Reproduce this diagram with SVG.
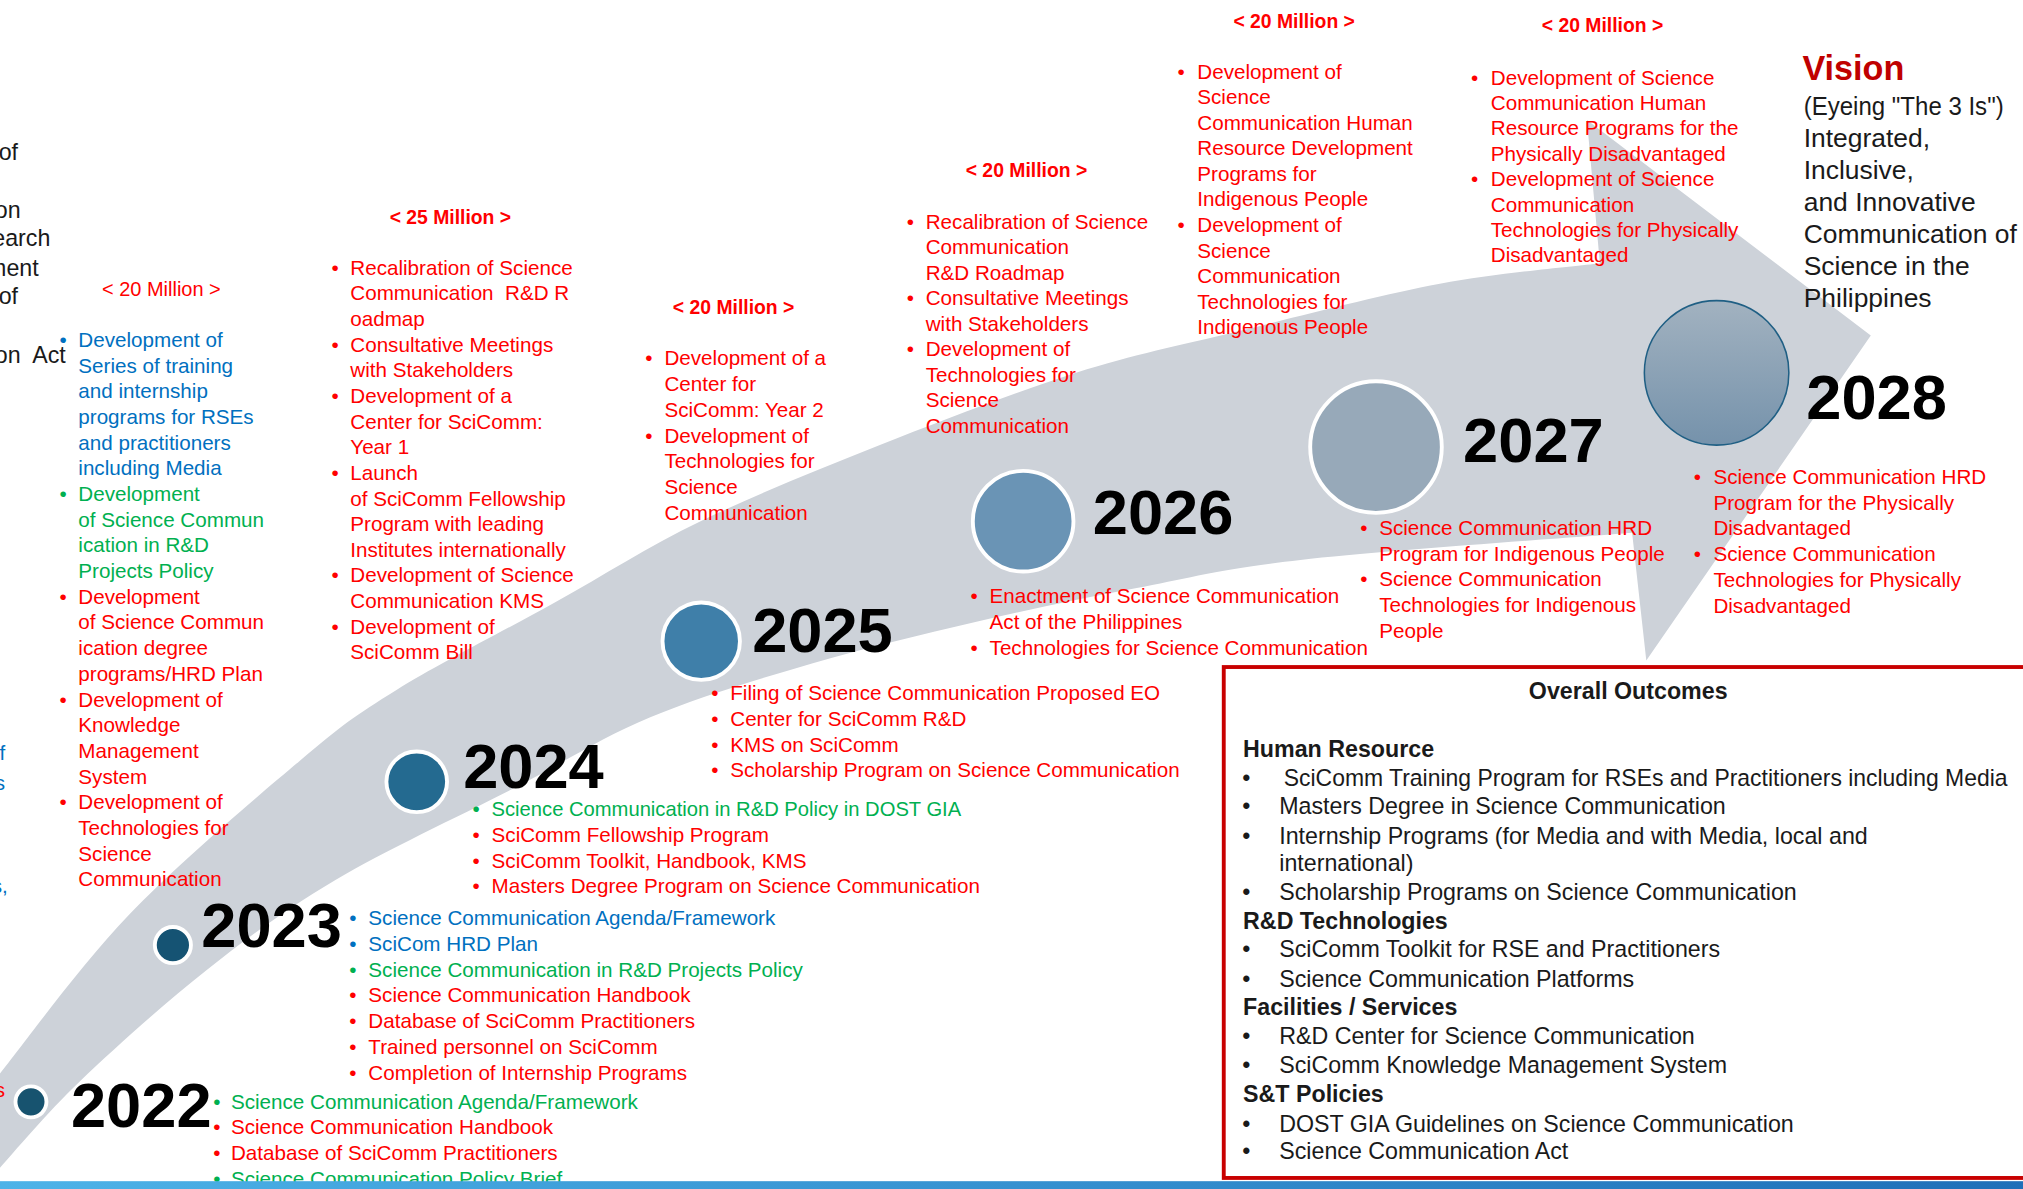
<svg xmlns="http://www.w3.org/2000/svg" width="2023" height="1189" viewBox="0 0 2023 1189">
<defs>
<style>
.f{font-family:"Liberation Sans",Arial,sans-serif}
.s{font-size:16px}
.r{fill:#FF0000}
.bl{fill:#0070C0}
.g{fill:#00B050}
.k{fill:#1A1A1A}
.lf{font-size:18px;fill:#1A1A1A}
.m{font-size:15px;font-weight:bold;fill:#FF0000}
.yr{font-size:49px;font-weight:bold;fill:#000000}
.o{font-size:18px;fill:#1A1A1A}
.ob{font-size:18px;font-weight:bold;fill:#1A1A1A}
.ring{stroke:#FFFFFF;stroke-width:3}
.vt{font-size:20.5px;fill:#1A1A1A}
</style>
<linearGradient id="g28" x1="0" y1="0" x2="0" y2="1"><stop offset="0" stop-color="#A2B2C0"/><stop offset="1" stop-color="#7592AB"/></linearGradient>
<linearGradient id="bar" x1="0" y1="0" x2="1" y2="0"><stop offset="0" stop-color="#4DB3E8"/><stop offset="1" stop-color="#1F6FB8"/></linearGradient>
</defs>
<rect width="2023" height="1189" fill="#FFFFFF"/>
<g class="f" transform="scale(1.2902)">
<g id="connectors">
<path id="timeline-arrow" fill="#CDD2D9" d="M -5,838 L 0,832 C 16.7,811.5 61.3,749.3 100,709 C 138.7,668.7 197.5,619 232,590 C 266.5,561 274,555.5 307,535 C 340,514.5 390.7,488.8 430,467 C 469.3,445.2 501,424.3 543,404 C 585,383.7 633.5,364.2 682,345 C 730.5,325.8 787.8,303.7 834,289 C 880.2,274.3 912,268.5 959,257 C 1006,245.5 1069.2,228.8 1116,220 C 1162.8,211.2 1219.3,206.7 1240,204 L 1230,93 L 1450,260 L 1276,512 L 1265,413 C 1222.2,416.5 1072.2,426.8 1008,434 C 943.8,441.2 922,448 880,456 C 838,464 797.7,472.3 756,482 C 714.3,491.7 672,501.7 630,514 C 588,526.3 542.3,540 504,556 C 465.7,572 440.7,589 400,610 C 359.3,631 300,658.3 260,682 C 220,705.7 193,726 160,752 C 127,778 88.7,812.5 62,838 C 35.3,863.5 10.3,893.8 0,905 L -5,910 Z"/>
</g>

<g id="left-fragments">
<text class="lf" text-anchor="end" x="14" y="124">of</text>
<text class="lf" text-anchor="end" x="16" y="169">on</text>
<text class="lf" text-anchor="end" x="39" y="191">earch</text>
<text class="lf" text-anchor="end" x="30" y="214">ment</text>
<text class="lf" text-anchor="end" x="14" y="236">of</text>
<text class="lf" text-anchor="end" x="51" y="281" xml:space="preserve">on  Act</text>
<text class="s bl" text-anchor="end" x="4" y="589">f</text>
<text class="s bl" text-anchor="end" x="4" y="612">s</text>
<text class="s bl" text-anchor="end" x="6" y="692">s,</text>
<text class="s r" text-anchor="end" x="4" y="850">s</text>
</g>

<g id="budget-2023">
<text class="r" style="font-size:15.5px" x="79" y="229.5">&lt; 20 Million &gt;</text>
<text class="s" y="269">
<tspan class="bl" x="60.7">Development of</tspan>
<tspan class="bl" x="60.7" dy="19.9">Series of training</tspan>
<tspan class="bl" x="60.7" dy="19.9">and internship</tspan>
<tspan class="bl" x="60.7" dy="19.9">programs for RSEs</tspan>
<tspan class="bl" x="60.7" dy="19.9">and practitioners</tspan>
<tspan class="bl" x="60.7" dy="19.9">including Media</tspan>
<tspan class="g" x="60.7" dy="19.9">Development</tspan>
<tspan class="g" x="60.7" dy="19.9">of Science Commun</tspan>
<tspan class="g" x="60.7" dy="19.9">ication in R&amp;D</tspan>
<tspan class="g" x="60.7" dy="19.9">Projects Policy</tspan>
<tspan class="r" x="60.7" dy="19.9">Development</tspan>
<tspan class="r" x="60.7" dy="19.9">of Science Commun</tspan>
<tspan class="r" x="60.7" dy="19.9">ication degree</tspan>
<tspan class="r" x="60.7" dy="19.9">programs/HRD Plan</tspan>
<tspan class="r" x="60.7" dy="19.9">Development of</tspan>
<tspan class="r" x="60.7" dy="19.9">Knowledge</tspan>
<tspan class="r" x="60.7" dy="19.9">Management</tspan>
<tspan class="r" x="60.7" dy="19.9">System</tspan>
<tspan class="r" x="60.7" dy="19.9">Development of</tspan>
<tspan class="r" x="60.7" dy="19.9">Technologies for</tspan>
<tspan class="r" x="60.7" dy="19.9">Science</tspan>
<tspan class="r" x="60.7" dy="19.9">Communication</tspan>
</text>
<text class="s bl" x="46.2" y="269">•</text>
<text class="s g" x="46.2" y="388.4">•</text>
<text class="s r" x="46.2" y="468">•</text>
<text class="s r" x="46.2" y="547.6">•</text>
<text class="s r" x="46.2" y="627.2">•</text>
</g>

<g id="budget-2024">
<text class="m" x="302" y="173.5">&lt; 25 Million &gt;</text>
<text class="s r" y="213">
<tspan x="271.5">Recalibration of Science</tspan>
<tspan x="271.5" dy="19.87">Communication&#160; R&amp;D R</tspan>
<tspan x="271.5" dy="19.87">oadmap</tspan>
<tspan x="271.5" dy="19.87">Consultative Meetings</tspan>
<tspan x="271.5" dy="19.87">with Stakeholders</tspan>
<tspan x="271.5" dy="19.87">Development of a</tspan>
<tspan x="271.5" dy="19.87">Center for SciComm:</tspan>
<tspan x="271.5" dy="19.87">Year 1</tspan>
<tspan x="271.5" dy="19.87">Launch</tspan>
<tspan x="271.5" dy="19.87">of SciComm Fellowship</tspan>
<tspan x="271.5" dy="19.87">Program with leading</tspan>
<tspan x="271.5" dy="19.87">Institutes internationally</tspan>
<tspan x="271.5" dy="19.87">Development of Science</tspan>
<tspan x="271.5" dy="19.87">Communication KMS</tspan>
<tspan x="271.5" dy="19.87">Development of</tspan>
<tspan x="271.5" dy="19.87">SciComm Bill</tspan>
</text>
<text class="s r">
<tspan x="257" y="213">•</tspan>
<tspan x="257" y="272.6">•</tspan>
<tspan x="257" y="312.35">•</tspan>
<tspan x="257" y="371.96">•</tspan>
<tspan x="257" y="451.44">•</tspan>
<tspan x="257" y="491.18">•</tspan>
</text>
</g>

<g id="budget-2025">
<text class="m" x="521.5" y="243.5">&lt; 20 Million &gt;</text>
<text class="s r" y="283">
<tspan x="515">Development of a</tspan>
<tspan x="515" dy="20">Center for</tspan>
<tspan x="515" dy="20">SciComm: Year 2</tspan>
<tspan x="515" dy="20">Development of</tspan>
<tspan x="515" dy="20">Technologies for</tspan>
<tspan x="515" dy="20">Science</tspan>
<tspan x="515" dy="20">Communication</tspan>
</text>
<text class="s r"><tspan x="500.2" y="283">•</tspan><tspan x="500.2" y="343">•</tspan></text>
</g>

<g id="budget-2026">
<text class="m" x="748.5" y="137.5">&lt; 20 Million &gt;</text>
<text class="s r" y="177.5">
<tspan x="717.5">Recalibration of Science</tspan>
<tspan x="717.5" dy="19.75">Communication</tspan>
<tspan x="717.5" dy="19.75">R&amp;D Roadmap</tspan>
<tspan x="717.5" dy="19.75">Consultative Meetings</tspan>
<tspan x="717.5" dy="19.75">with Stakeholders</tspan>
<tspan x="717.5" dy="19.75">Development of</tspan>
<tspan x="717.5" dy="19.75">Technologies for</tspan>
<tspan x="717.5" dy="19.75">Science</tspan>
<tspan x="717.5" dy="19.75">Communication</tspan>
</text>
<text class="s r"><tspan x="702.8" y="177.5">•</tspan><tspan x="702.8" y="236.75">•</tspan><tspan x="702.8" y="276.25">•</tspan></text>
</g>

<g id="budget-2027">
<text class="m" x="956" y="21.5">&lt; 20 Million &gt;</text>
<text class="s r" y="61">
<tspan x="928">Development of</tspan>
<tspan x="928" dy="19.8">Science</tspan>
<tspan x="928" dy="19.8">Communication Human</tspan>
<tspan x="928" dy="19.8">Resource Development</tspan>
<tspan x="928" dy="19.8">Programs for</tspan>
<tspan x="928" dy="19.8">Indigenous People</tspan>
<tspan x="928" dy="19.8">Development of</tspan>
<tspan x="928" dy="19.8">Science</tspan>
<tspan x="928" dy="19.8">Communication</tspan>
<tspan x="928" dy="19.8">Technologies for</tspan>
<tspan x="928" dy="19.8">Indigenous People</tspan>
</text>
<text class="s r"><tspan x="912.7" y="61">•</tspan><tspan x="912.7" y="179.8">•</tspan></text>
</g>

<g id="budget-2028">
<text class="m" x="1195" y="24.5">&lt; 20 Million &gt;</text>
<text class="s r" y="65.5">
<tspan x="1155.5">Development of Science</tspan>
<tspan x="1155.5" dy="19.7">Communication Human</tspan>
<tspan x="1155.5" dy="19.7">Resource Programs for the</tspan>
<tspan x="1155.5" dy="19.7">Physically Disadvantaged</tspan>
<tspan x="1155.5" dy="19.7">Development of Science</tspan>
<tspan x="1155.5" dy="19.7">Communication</tspan>
<tspan x="1155.5" dy="19.7">Technologies for Physically</tspan>
<tspan x="1155.5" dy="19.7">Disadvantaged</tspan>
</text>
<text class="s r"><tspan x="1140.2" y="65.5">•</tspan><tspan x="1140.2" y="144.3">•</tspan></text>
</g>

<g id="vision">
<text x="1397" y="62" style="font-size:26.5px;font-weight:bold;fill:#C00000">Vision</text>
<text class="vt" y="89">
<tspan x="1398" textLength="155" lengthAdjust="spacingAndGlyphs">(Eyeing "The 3 Is")</tspan>
<tspan x="1398" dy="24.8">Integrated,</tspan>
<tspan x="1398" dy="24.8">Inclusive,</tspan>
<tspan x="1398" dy="24.8">and Innovative</tspan>
<tspan x="1398" dy="24.8">Communication of</tspan>
<tspan x="1398" dy="24.8">Science in the</tspan>
<tspan x="1398" dy="24.8">Philippines</tspan>
</text>
</g>

<g id="year-2022">
<circle class="ring" cx="24" cy="854" r="12" fill="#17536F"/>
<text class="yr" x="55" y="873.5">2022</text>
<text class="s">
<tspan class="g" x="179" y="859.5">Science Communication Agenda/Framework</tspan>
<tspan class="r" x="179" y="879.3">Science Communication Handbook</tspan>
<tspan class="r" x="179" y="899.1">Database of SciComm Practitioners</tspan>
<tspan class="g" x="179" y="918.9">Science Communication Policy Brief</tspan>
</text>
<text class="s">
<tspan class="g" x="165.2" y="859.5">•</tspan>
<tspan class="r" x="165.2" y="879.3">•</tspan>
<tspan class="r" x="165.2" y="899.1">•</tspan>
<tspan class="g" x="165.2" y="918.9">•</tspan>
</text>
</g>

<g id="year-2023">
<circle class="ring" cx="134" cy="732.5" r="14" fill="#155373"/>
<text class="yr" x="156" y="734">2023</text>
<text class="s">
<tspan class="bl" x="285.5" y="717">Science Communication Agenda/Framework</tspan>
<tspan class="bl" x="285.5" y="737">SciCom HRD Plan</tspan>
<tspan class="g" x="285.5" y="757">Science Communication in R&amp;D Projects Policy</tspan>
<tspan class="r" x="285.5" y="777">Science Communication Handbook</tspan>
<tspan class="r" x="285.5" y="797">Database of SciComm Practitioners</tspan>
<tspan class="r" x="285.5" y="817">Trained personnel on SciComm</tspan>
<tspan class="r" x="285.5" y="837">Completion of Internship Programs</tspan>
</text>
<text class="s">
<tspan class="bl" x="270.6" y="717">•</tspan>
<tspan class="bl" x="270.6" y="737">•</tspan>
<tspan class="g" x="270.6" y="757">•</tspan>
<tspan class="r" x="270.6" y="777">•</tspan>
<tspan class="r" x="270.6" y="797">•</tspan>
<tspan class="r" x="270.6" y="817">•</tspan>
<tspan class="r" x="270.6" y="837">•</tspan>
</text>
</g>

<g id="year-2024">
<circle class="ring" cx="323" cy="606" r="23.5" fill="#246A90"/>
<text class="yr" x="359" y="611">2024</text>
<text class="s">
<tspan class="g" x="381" y="632.5" textLength="364" lengthAdjust="spacingAndGlyphs">Science Communication in R&amp;D Policy in DOST GIA</tspan>
<tspan class="r" x="381" y="652.5">SciComm Fellowship Program</tspan>
<tspan class="r" x="381" y="672.5">SciComm Toolkit, Handbook, KMS</tspan>
<tspan class="r" x="381" y="692.5">Masters Degree Program on Science Communication</tspan>
</text>
<text class="s">
<tspan class="g" x="366.2" y="632.5">•</tspan>
<tspan class="r" x="366.2" y="652.5">•</tspan>
<tspan class="r" x="366.2" y="672.5">•</tspan>
<tspan class="r" x="366.2" y="692.5">•</tspan>
</text>
</g>

<g id="year-2025">
<circle class="ring" cx="543.5" cy="497" r="30" fill="#3F7FA9"/>
<text class="yr" x="583" y="505">2025</text>
<text class="s r">
<tspan x="566" y="542.5">Filing of Science Communication Proposed EO</tspan>
<tspan x="566" y="562.5">Center for SciComm R&amp;D</tspan>
<tspan x="566" y="582.5">KMS on SciComm</tspan>
<tspan x="566" y="602.5">Scholarship Program on Science Communication</tspan>
</text>
<text class="s r">
<tspan x="551.2" y="542.5">•</tspan>
<tspan x="551.2" y="562.5">•</tspan>
<tspan x="551.2" y="582.5">•</tspan>
<tspan x="551.2" y="602.5">•</tspan>
</text>
</g>

<g id="year-2026">
<circle class="ring" cx="793" cy="404" r="39" fill="#6A94B5"/>
<text class="yr" x="847" y="414">2026</text>
<text class="s r">
<tspan x="767" y="467.5">Enactment of Science Communication</tspan>
<tspan x="767" y="487.5">Act of the Philippines</tspan>
<tspan x="767" y="507.5">Technologies for Science Communication</tspan>
</text>
<text class="s r"><tspan x="752.2" y="467.5">•</tspan><tspan x="752.2" y="507.5">•</tspan></text>
</g>

<g id="year-2027">
<circle class="ring" cx="1066.5" cy="346.5" r="51" fill="#97A9B9"/>
<text class="yr" x="1134" y="358">2027</text>
<text class="s r">
<tspan x="1069" y="414.5">Science Communication HRD</tspan>
<tspan x="1069" y="434.5">Program for Indigenous People</tspan>
<tspan x="1069" y="454.5">Science Communication</tspan>
<tspan x="1069" y="474.5">Technologies for Indigenous</tspan>
<tspan x="1069" y="494.5">People</tspan>
</text>
<text class="s r"><tspan x="1054.2" y="414.5">•</tspan><tspan x="1054.2" y="454.5">•</tspan></text>
</g>

<g id="year-2028">
<circle cx="1330.5" cy="289" r="56" fill="url(#g28)" stroke="#1F5F84" stroke-width="1.2"/>
<text class="yr" x="1400" y="325">2028</text>
<text class="s r">
<tspan x="1328" y="375">Science Communication HRD</tspan>
<tspan x="1328" y="395">Program for the Physically</tspan>
<tspan x="1328" y="415">Disadvantaged</tspan>
<tspan x="1328" y="435">Science Communication</tspan>
<tspan x="1328" y="455">Technologies for Physically</tspan>
<tspan x="1328" y="475">Disadvantaged</tspan>
</text>
<text class="s r"><tspan x="1312.7" y="375">•</tspan><tspan x="1312.7" y="435">•</tspan></text>
</g>

<g id="overall-outcomes">
<rect x="948.5" y="517" width="700" height="396" fill="#FFFFFF" stroke="#C80000" stroke-width="3"/>
<text class="ob" x="1262" y="541.5" text-anchor="middle">Overall Outcomes</text>
<text class="ob" x="963.5" y="586.5">Human Resource</text>
<text class="o" x="995" y="609" textLength="561" lengthAdjust="spacingAndGlyphs">SciComm Training Program for RSEs and Practitioners including Media</text>
<text class="o" x="991.5" y="631">Masters Degree in Science Communication</text>
<text class="o" x="991.5" y="654">Internship Programs (for Media and with Media, local and</text>
<text class="o" x="991.5" y="675">international)</text>
<text class="o" x="991.5" y="697.5">Scholarship Programs on Science Communication</text>
<text class="ob" x="963.5" y="720">R&amp;D Technologies</text>
<text class="o" x="991.5" y="742">SciComm Toolkit for RSE and Practitioners</text>
<text class="o" x="991.5" y="765">Science Communication Platforms</text>
<text class="ob" x="963.5" y="786.5">Facilities / Services</text>
<text class="o" x="991.5" y="809.5">R&amp;D Center for Science Communication</text>
<text class="o" x="991.5" y="832">SciComm Knowledge Management System</text>
<text class="ob" x="963.5" y="854">S&amp;T Policies</text>
<text class="o" x="991.5" y="877">DOST GIA Guidelines on Science Communication</text>
<text class="o" x="991.5" y="898.5">Science Communication Act</text>
<text class="o">
<tspan x="962.9" y="609">•</tspan>
<tspan x="962.9" y="631">•</tspan>
<tspan x="962.9" y="654">•</tspan>
<tspan x="962.9" y="697.5">•</tspan>
<tspan x="962.9" y="742">•</tspan>
<tspan x="962.9" y="765">•</tspan>
<tspan x="962.9" y="809.5">•</tspan>
<tspan x="962.9" y="832">•</tspan>
<tspan x="962.9" y="877">•</tspan>
<tspan x="962.9" y="898.5">•</tspan>
</text>
</g>

<rect id="bottom-bar" x="0" y="915.5" width="1570" height="7" fill="url(#bar)"/>
</g>
</svg>
